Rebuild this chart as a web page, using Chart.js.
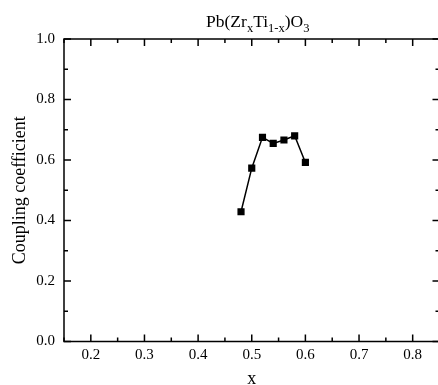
<!DOCTYPE html>
<html>
<head>
<meta charset="utf-8">
<script src="https://cdn.jsdelivr.net/npm/chart.js@4"></script>
<style>
  html, body { margin: 0; padding: 0; background: #fff; overflow: hidden; }
  #wrap { width: 445px; height: 385px; }
</style>
</head>
<body>
<div id="wrap"><canvas id="pztChart"></canvas></div>
<script>
// values
const compositionX = [0.48, 0.50, 0.52, 0.54, 0.56, 0.58, 0.60];
const couplingCoeff = [0.429, 0.573, 0.675, 0.655, 0.666, 0.680, 0.592];
const xTickLabels = [0.2, 0.3, 0.4, 0.5, 0.6, 0.7, 0.8];
const yTickLabels = [0.0, 0.2, 0.4, 0.6, 0.8, 1.0];

const SERIF = "'Liberation Serif', 'Times New Roman', serif";

// inward ticks on all four sides, plus the frame and the subscripted title
const frameAndTicks = {
  id: "frameAndTicks",
  afterDraw(chart) {
    const ctx = chart.ctx;
    const a = chart.chartArea;
    const xs = chart.scales.x;
    const ys = chart.scales.y;
    ctx.save();
    ctx.strokeStyle = "#000";
    ctx.lineWidth = 1.5;
    ctx.strokeRect(a.left, a.top, a.right - a.left, a.bottom - a.top);

    ctx.beginPath();
    for (let v = 0.15; v <= 0.851; v += 0.05) {
      const px = xs.getPixelForValue(v);
      const major = Math.abs(v * 10 - Math.round(v * 10)) < 1e-6;
      const len = major ? 7 : 4;
      ctx.moveTo(px, a.bottom);
      ctx.lineTo(px, a.bottom - len);
      ctx.moveTo(px, a.top);
      ctx.lineTo(px, a.top + len);
    }
    for (let v = 0; v <= 1.001; v += 0.1) {
      const py = ys.getPixelForValue(v);
      const major = Math.round(v * 10) % 2 === 0;
      const len = major ? 7 : 4;
      ctx.moveTo(a.left, py);
      ctx.lineTo(a.left + len, py);
      ctx.moveTo(a.right, py);
      ctx.lineTo(a.right - len, py);
    }
    ctx.stroke();

    // title Pb(Zr_x Ti_1-x)O_3
    const parts = [
      ["Pb(Zr", false], ["x", true], ["Ti", false], ["1-x", true],
      [")O", false], ["3", true]
    ];
    const big = "17.5px " + SERIF;
    const small = "12.5px " + SERIF;
    let total = 0;
    parts.forEach(([t, sub]) => {
      ctx.font = sub ? small : big;
      total += ctx.measureText(t).width;
    });
    let x = (a.left + a.right) / 2 + 6 - total / 2;
    const base = 27;
    ctx.fillStyle = "#000";
    ctx.textBaseline = "alphabetic";
    ctx.textAlign = "left";
    parts.forEach(([t, sub]) => {
      ctx.font = sub ? small : big;
      ctx.fillText(t, x, sub ? base + 5 : base);
      x += ctx.measureText(t).width;
    });
    ctx.restore();
  }
};

const ctx = document.getElementById("pztChart").getContext("2d");
const pztChart = new Chart(ctx, {
  type: "line",
  data: {
    datasets: [
      {
        label: "Coupling coefficient",
        data: compositionX.map((x, i) => ({ x: x, y: couplingCoeff[i] })),
        borderColor: "#000",
        backgroundColor: "#000",
        borderWidth: 1.5,
        pointStyle: "rect",
        pointRadius: 4,
        pointHoverRadius: 4,
        tension: 0
      }
    ]
  },
  options: {
    responsive: true,
    maintainAspectRatio: false,
    animation: false,
    layout: { padding: { top: 39, right: 2, left: 0, bottom: 0 } },
    plugins: {
      legend: { display: false },
      tooltip: { enabled: false }
    },
    scales: {
      x: {
        type: "linear",
        min: 0.15,
        max: 0.85,
        afterBuildTicks: (scale) => {
          scale.ticks = xTickLabels.map((v) => ({ value: v }));
        },
        afterFit: (scale) => { scale.height = 43.5; },
        grid: { display: false, drawTicks: false },
        border: { display: false },
        ticks: {
          padding: 5,
          color: "#000",
          font: { family: SERIF, size: 15 },
          callback: (v) => v.toFixed(1)
        },
        title: {
          display: true,
          text: "x",
          color: "#000",
          font: { family: SERIF, size: 18 },
          padding: { top: 0, bottom: -5 }
        }
      },
      y: {
        min: 0,
        max: 1,
        afterBuildTicks: (scale) => {
          scale.ticks = yTickLabels.map((v) => ({ value: v }));
        },
        afterFit: (scale) => { scale.width = 64; },
        grid: { display: false, drawTicks: false },
        border: { display: false },
        ticks: {
          padding: 9,
          color: "#000",
          font: { family: SERIF, size: 15 },
          callback: (v) => v.toFixed(1)
        },
        title: {
          display: true,
          text: "Coupling coefficient",
          color: "#000",
          font: { family: SERIF, size: 18 },
          padding: { top: 9, bottom: 0 }
        }
      }
    }
  },
  plugins: [frameAndTicks]
});
</script>
</body>
</html>
